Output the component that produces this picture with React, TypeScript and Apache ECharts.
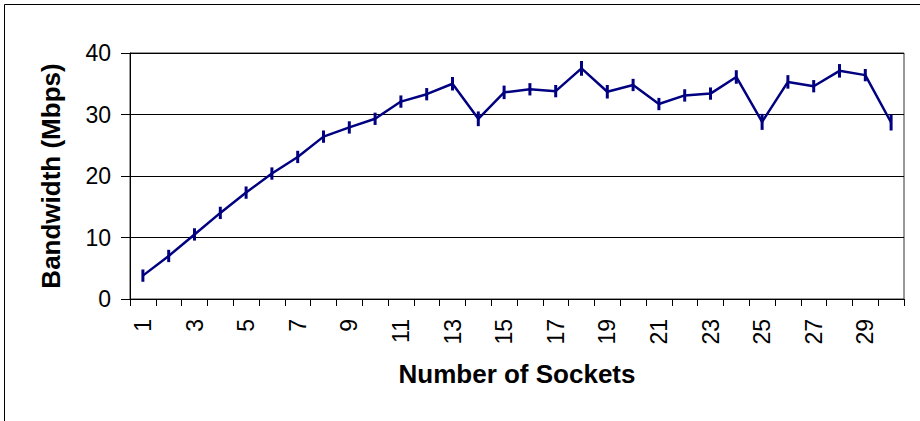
import React, { useEffect, useRef } from "react";
import * as echarts from "echarts";

const categories = Array.from({ length: 30 }, (_, i) => String(i + 1));
const bandwidth = [
  3.8, 7.0, 10.5, 14.0, 17.3, 20.4, 23.1, 26.4, 27.9, 29.3,
  32.1, 33.3, 35.0, 29.3, 33.6, 34.1, 33.8, 37.5, 33.7, 34.8,
  31.7, 33.1, 33.4, 36.1, 28.8, 35.3, 34.6, 37.1, 36.4, 28.7,
];
const errors = [
  1.0, 1.0, 1.0, 1.0, 1.0, 1.0, 1.0, 1.0, 1.0, 1.0,
  1.0, 1.0, 1.1, 1.2, 1.1, 1.0, 1.0, 1.2, 1.1, 1.0,
  1.0, 1.0, 1.0, 1.1, 1.3, 1.1, 1.0, 1.1, 1.0, 1.3,
];
const yTicks = [0, 10, 20, 30, 40];

const FONT = "'Liberation Sans', Arial, sans-serif";
const NAVY = "#000080";

export default function App() {
  const ref = useRef<HTMLDivElement>(null);
  useEffect(() => {
    document.body.style.margin = "0";
    const chart = echarts.init(ref.current!, undefined, { renderer: "svg" });
    chart.setOption({
      animation: false,
      backgroundColor: "#fff",
      grid: {
        left: 130,
        top: 53,
        right: 16,
        bottom: 122,
        show: true,
        borderColor: "#333",
        borderWidth: 1,
      },
      graphic: [
        {
          type: "rect",
          shape: { x: 4.5, y: 4.5, width: 1000, height: 1000 },
          style: { fill: "none", stroke: "#000", lineWidth: 1 },
          silent: true,
        },
      ],
      xAxis: {
        type: "category",
        data: categories,
        boundaryGap: true,
        name: "Number of Sockets",
        nameLocation: "middle",
        nameGap: 62,
        nameTextStyle: { fontFamily: FONT, fontSize: 26, fontWeight: "bold", color: "#000" },
        axisLine: { lineStyle: { color: "#000", width: 1 } },
        axisTick: { show: true, inside: false, length: 7, alignWithLabel: false, interval: 0, lineStyle: { color: "#000" } },
        axisLabel: {
          interval: 1,
          rotate: 90,
          margin: 20,
          fontFamily: FONT,
          fontSize: 23,
          color: "#000",
        },
        splitLine: { show: false },
      },
      yAxis: {
        type: "value",
        min: yTicks[0],
        max: yTicks[yTicks.length - 1],
        interval: 10,
        name: "Bandwidth (Mbps)",
        nameLocation: "middle",
        nameRotate: 90,
        nameGap: 66,
        nameTextStyle: { fontFamily: FONT, fontSize: 26, fontWeight: "bold", color: "#000" },
        axisLine: { show: true, lineStyle: { color: "#000", width: 1 } },
        axisTick: { show: true, inside: false, length: 9, lineStyle: { color: "#000" } },
        axisLabel: { margin: 19, fontFamily: FONT, fontSize: 23, color: "#000" },
        splitLine: { show: true, lineStyle: { color: "#000", width: 1 } },
      },
      series: [
        {
          type: "line",
          data: bandwidth,
          showSymbol: false,
          symbol: "none",
          lineStyle: { color: NAVY, width: 2.5 },
          itemStyle: { color: NAVY },
          z: 3,
        },
        {
          type: "custom",
          data: bandwidth.map((v, i) => [i, v - errors[i], v + errors[i]]),
          renderItem: (params: any, api: any) => {
            const x = api.value(0);
            const lo = api.coord([x, api.value(1)]);
            const hi = api.coord([x, api.value(2)]);
            return {
              type: "line",
              shape: { x1: lo[0], y1: lo[1], x2: hi[0], y2: hi[1] },
              style: { stroke: NAVY, lineWidth: 3 },
            };
          },
          encode: { x: 0, y: [1, 2] },
          z: 4,
        },
      ],
    });
    return () => chart.dispose();
  }, []);
  return <div ref={ref} style={{ width: 920, height: 421 }} />;
}
